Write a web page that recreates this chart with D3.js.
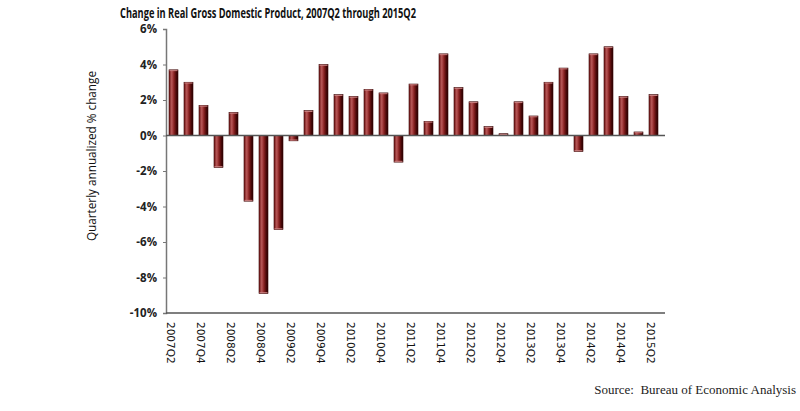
<!DOCTYPE html>
<html>
<head>
<meta charset="utf-8">
<script src="https://cdn.jsdelivr.net/npm/d3@7"></script>
<style>
  html, body { margin: 0; padding: 0; background: #fff; }
  svg { display: block; }
</style>
</head>
<body>
<svg id="chart" width="800" height="411"></svg>
<script>
const categories = ["2007Q2","2007Q3","2007Q4","2008Q1","2008Q2","2008Q3","2008Q4","2009Q1","2009Q2","2009Q3","2009Q4","2010Q1","2010Q2","2010Q3","2010Q4","2011Q1","2011Q2","2011Q3","2011Q4","2012Q1","2012Q2","2012Q3","2012Q4","2013Q1","2013Q2","2013Q3","2013Q4","2014Q1","2014Q2","2014Q3","2014Q4","2015Q1","2015Q2"];
const gdpChange = [3.7,3.0,1.7,-1.8,1.3,-3.7,-8.9,-5.3,-0.3,1.4,4.0,2.3,2.2,2.6,2.4,-1.5,2.9,0.8,4.6,2.7,1.9,0.5,0.1,1.9,1.1,3.0,3.8,-0.9,4.6,5.0,2.2,0.2,2.3];
const yTicks = [-10,-8,-6,-4,-2,0,2,4,6];
const xTickLabels = categories.filter((d,i) => i % 2 === 0);

const svg = d3.select("#chart");
const x = d3.scaleBand().domain(categories).range([166, 661]).paddingInner(0.4).paddingOuter(0.2);
const y = d3.scaleLinear().domain([-10, 6]).range([313, 29]);

const defs = svg.append("defs");
const g = defs.append("linearGradient").attr("id","barGrad").attr("x1","0").attr("x2","1").attr("y1","0").attr("y2","0");
g.append("stop").attr("offset","0%").attr("stop-color","#6e1414");
g.append("stop").attr("offset","30%").attr("stop-color","#b85858");
g.append("stop").attr("offset","55%").attr("stop-color","#8a2222");
g.append("stop").attr("offset","80%").attr("stop-color","#4a0808");
g.append("stop").attr("offset","100%").attr("stop-color","#2a0202");

// Title
svg.append("text").attr("x", 268).attr("y", 18).attr("text-anchor","middle")
  .attr("font-family","'Open Sans', sans-serif").attr("font-weight","bold").attr("font-size", 14)
  .attr("textLength", 296).attr("lengthAdjust","spacingAndGlyphs").attr("fill","#111")
  .text("Change in Real Gross Domestic Product, 2007Q2 through 2015Q2");

// Y axis
const yAxis = svg.append("g").attr("transform","translate(166,0)")
  .call(d3.axisLeft(y).tickValues(yTicks).tickSize(3).tickFormat(d => d + "%"));
yAxis.select(".domain").attr("stroke","#777").attr("stroke-width",1.5);
yAxis.selectAll(".tick line").attr("stroke","#777");
yAxis.selectAll(".tick text").attr("font-family","'Open Sans', sans-serif").attr("font-weight","bold")
  .attr("font-size",11.5).attr("fill","#222").attr("x",-9);

// Y axis title
svg.append("text").attr("transform","translate(96,156) rotate(-90)").attr("text-anchor","middle")
  .attr("font-family","'Open Sans', sans-serif").attr("font-size",13).attr("fill","#111")
  .attr("textLength",170).attr("lengthAdjust","spacingAndGlyphs")
  .text("Quarterly annualized % change");

// Bottom border line
svg.append("line").attr("x1",166).attr("x2",665).attr("y1",y(-10)).attr("y2",y(-10))
  .attr("stroke","#555").attr("stroke-width",1.5);

// Bars
const bars = svg.append("g");
bars.selectAll("rect").data(gdpChange).join("rect")
  .attr("x", (d,i) => x(categories[i]))
  .attr("width", x.bandwidth())
  .attr("y", d => y(Math.max(0,d)))
  .attr("height", d => Math.abs(y(d) - y(0)))
  .attr("fill","url(#barGrad)")
  .attr("stroke","#3a0606").attr("stroke-width",0.6);
bars.selectAll("line.cap").data(gdpChange).join("line").attr("class","cap")
  .attr("x1",(d,i) => x(categories[i]) + 0.5)
  .attr("x2",(d,i) => x(categories[i]) + x.bandwidth() - 0.5)
  .attr("y1", d => d >= 0 ? y(d) + 0.8 : y(d) - 0.8)
  .attr("y2", d => d >= 0 ? y(d) + 0.8 : y(d) - 0.8)
  .attr("stroke","#c98080").attr("stroke-width",1);

// Zero line
svg.append("line").attr("x1",166).attr("x2",665).attr("y1",y(0)).attr("y2",y(0))
  .attr("stroke","#555").attr("stroke-width",1.5);

// X labels (every other quarter)
svg.append("g").selectAll("text").data(xTickLabels).join("text")
  .attr("transform", d => `translate(${x(d) + x.bandwidth()/2 - 4},${322}) rotate(90)`)
  .attr("font-family","'DejaVu Sans', sans-serif").attr("font-size",10.5).attr("fill","#111")
  .attr("dominant-baseline","middle")
  .text(d => d);

// Source
svg.append("text").attr("x",796).attr("y",394).attr("text-anchor","end")
  .attr("font-family","'Liberation Serif', serif").attr("font-size",13).attr("fill","#222")
  .attr("xml:space","preserve")
  .text("Source:  Bureau of Economic Analysis");
</script>
</body>
</html>
